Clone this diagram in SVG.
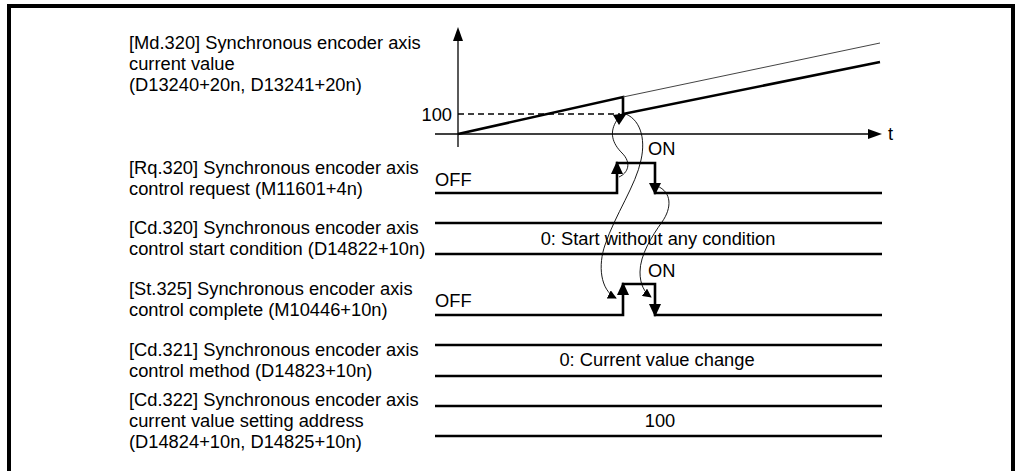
<svg xmlns="http://www.w3.org/2000/svg" width="1015" height="471" viewBox="0 0 1015 471">
<style>
text{font-family:"Liberation Sans",Arial,sans-serif;font-size:18.3px;fill:#000}
.mid{text-anchor:middle}
.sig{fill:none;stroke:#000;stroke-width:2.6}
.ax{fill:none;stroke:#000;stroke-width:1.3}
.cur{fill:none;stroke:#000;stroke-width:0.9}
.hd{fill:#000;stroke:none}
</style>
<defs>
<marker id="ah" viewBox="0 0 10 10" refX="9" refY="5" markerWidth="9" markerHeight="9" markerUnits="userSpaceOnUse" orient="auto">
<path d="M0,0 L10,5 L0,10 z" fill="#000"/>
</marker>
</defs>
<path d="M9,471 V6 H1013 V471" fill="none" stroke="#000" stroke-width="4"/>

<g id="md320">
<text x="129" y="49">[Md.320] Synchronous encoder axis</text>
<text x="129" y="70">current value</text>
<text x="129" y="91">(D13240+20n, D13241+20n)</text>
<line class="ax" x1="458" y1="38" x2="458" y2="147"/>
<polygon class="hd" points="458,27 453,41 463,41"/>
<line class="ax" x1="435" y1="134" x2="870" y2="134"/>
<polygon class="hd" points="882,134 868,129 868,139"/>
<text x="888" y="140">t</text>
<text x="452" y="121" text-anchor="end">100</text>
<line x1="458" y1="114" x2="620" y2="114" stroke="#000" stroke-width="1.3" stroke-dasharray="6,4"/>
<polyline class="sig" points="458,134 623,97 623,114 880,62"/>
<line x1="623" y1="97" x2="880" y2="43" stroke="#444" stroke-width="1"/>
<polygon class="hd" points="613,115 627,113 619,125"/>
</g>

<g id="rq320">
<text x="129" y="174">[Rq.320] Synchronous encoder axis</text>
<text x="129" y="195">control request (M11601+4n)</text>
<text x="435" y="186">OFF</text>
<text x="648" y="155">ON</text>
<polyline class="sig" points="435,193 617,193 617,163 655,163 655,193 882,193"/>
<polygon class="hd" points="617,161 611,174 623,174"/>
<polygon class="hd" points="655,195 649,183 661,183"/>
</g>

<g id="cd320">
<text x="129" y="234">[Cd.320] Synchronous encoder axis</text>
<text x="129" y="255">control start condition (D14822+10n)</text>
<line class="sig" x1="435" y1="223" x2="882" y2="223"/>
<line class="sig" x1="435" y1="254" x2="882" y2="254"/>
<text class="mid" x="658" y="245">0: Start without any condition</text>
</g>

<g id="st325">
<text x="129" y="295">[St.325] Synchronous encoder axis</text>
<text x="129" y="316">control complete (M10446+10n)</text>
<text x="435" y="307">OFF</text>
<text x="648" y="277">ON</text>
<polyline class="sig" points="435,315 623,315 623,284 655,284 655,315 882,315"/>
<polygon class="hd" points="623,282 617,295 629,295"/>
<polygon class="hd" points="655,317 649,304 661,304"/>
</g>

<g id="cd321">
<text x="129" y="356">[Cd.321] Synchronous encoder axis</text>
<text x="129" y="377">control method (D14823+10n)</text>
<line class="sig" x1="435" y1="345" x2="882" y2="345"/>
<line class="sig" x1="435" y1="376" x2="882" y2="376"/>
<text class="mid" x="657" y="366">0: Current value change</text>
</g>

<g id="cd322">
<text x="129" y="406">[Cd.322] Synchronous encoder axis</text>
<text x="129" y="427">current value setting address</text>
<text x="129" y="448">(D14824+10n, D14825+10n)</text>
<line class="sig" x1="435" y1="406" x2="882" y2="406"/>
<line class="sig" x1="435" y1="436" x2="882" y2="436"/>
<text class="mid" x="660" y="427">100</text>
</g>

<g id="connectors">
<path class="cur" d="M617,120 C609,132 612,143 622,153 C632,163 628,173 619,177"/>
<path class="cur" d="M623,113 C640,118 646,138 641,160 C636,185 615,215 605,245 C598,265 600,290 616,298" marker-end="url(#ah)"/>
<path class="cur" d="M657,186 C672,192 672,208 662,222 C652,236 640,255 640,272 C640,284 644,292 651,297" marker-end="url(#ah)"/>
</g>
</svg>
